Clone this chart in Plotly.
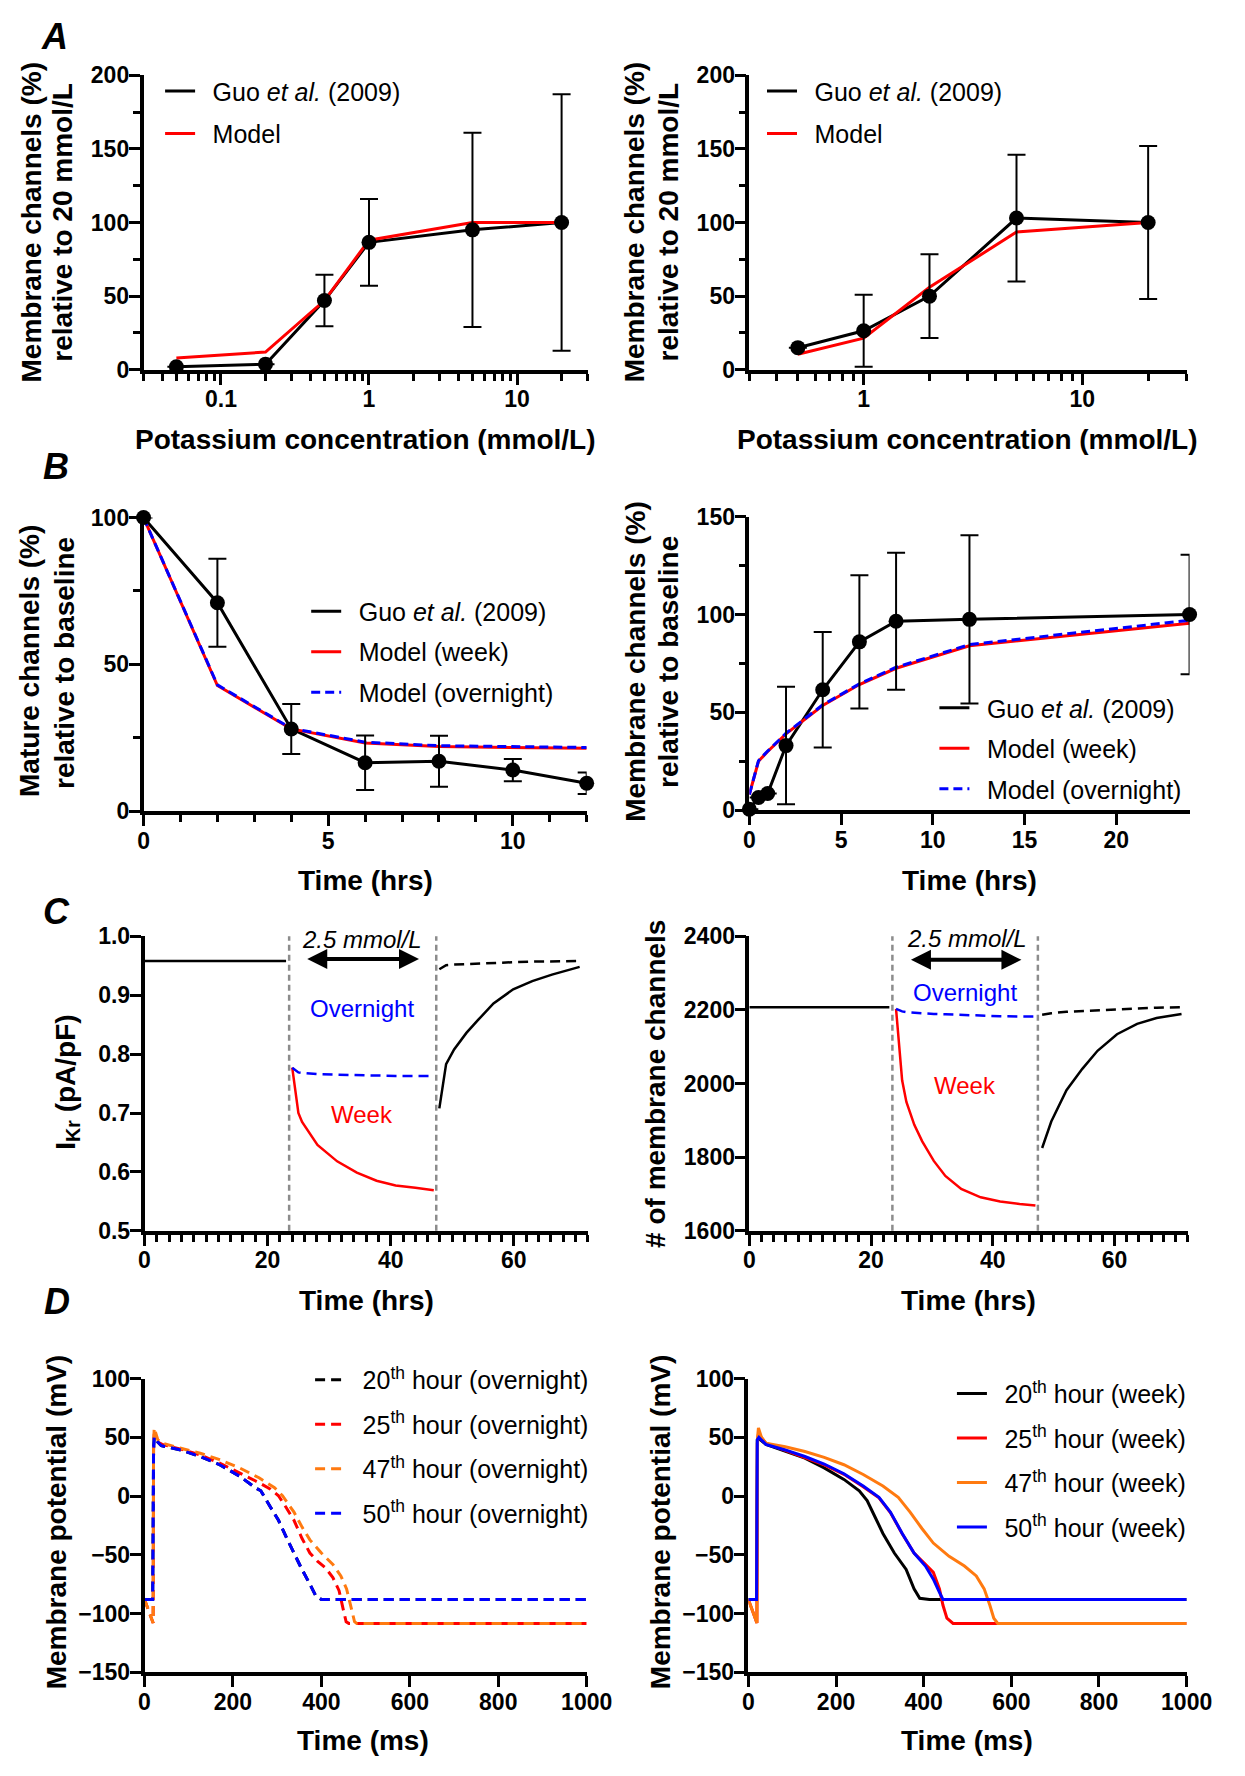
import math
import plotly.graph_objects as go

# target picture size and the browser's default body margin
W, H = 1245, 1776
OFF = 8
FW, FH = W - 2 * OFF, H - 2 * OFF
FONT = "Liberation Sans, Arial, sans-serif"

# ---------------- data ----------------
# Panel A (left)
kA1 = [0.05, 0.2, 0.5, 1, 5, 20]
guoA1 = [2, 3.8, 47, 86.5, 95, 100]
guoA1_err = [0, 0, 17.5, 29.5, 66, 87]
modelA1 = [8, 12, 47, 88, 100, 100]

# Panel A (right)
kA2 = [0.5, 1, 2, 5, 20]
guoA2 = [15, 26.5, 50, 103, 100]
guoA2_err = [0, 24.5, 28.5, 43, 52]
modelA2 = [10.5, 21.5, 56, 93.5, 100]

# Panel B (left)
tB1 = [0, 2, 4, 6, 8, 10, 12]
guoB1 = [100, 71, 28, 16.5, 17, 14, 9.5]
guoB1_err = [0, 15, 8.5, 9.3, 8.7, 3.8, 3.7]
modelB1_week = [100, 42.8, 28, 23.2, 22, 21.6, 21.4]
modelB1_overnight = [100, 43, 28.2, 23.5, 22.3, 21.9, 21.7]

# Panel B (right)
tB2 = [0, 0.5, 1, 2, 4, 6, 8, 12, 24]
guoB2 = [0.5, 6.5, 8.5, 33, 61.5, 86, 96.5, 97.5, 100]
guoB2_err = [0, 0, 0, 30, 29.5, 34, 35, 43, 30.5]
tB2_model = [0, 0.5, 1, 2, 4, 6, 8, 10, 12, 24]
modelB2_week = [8, 25, 30, 39, 53.5, 64.2, 72.5, 78.2, 84, 95.5]
modelB2_overnight = [8, 25.3, 30.2, 39.3, 53.8, 64.5, 73, 78.8, 84.6, 97]

# Panel C (shared)
switch_times = [23.5, 47.4]
tC_base = [0, 23]
tC_low_L = [24, 25, 25.6, 28.1, 31.3, 34.5, 37.7, 40.8, 44, 47]
tC_rec_L = [47.9, 49.0, 50.3, 52.3, 54.2, 56.7, 59.9, 63.0, 66.2, 69.4, 70.7]
IKr_base = [0.958, 0.958]
IKr_week_low = [0.777, 0.700, 0.685, 0.646, 0.618, 0.599, 0.585, 0.577, 0.573, 0.569]
IKr_overnight_low = [0.777, 0.769, 0.768, 0.766, 0.765, 0.764, 0.764, 0.763, 0.763, 0.763]
IKr_week_rec = [0.708, 0.783, 0.808, 0.836, 0.858, 0.886, 0.910, 0.924, 0.935, 0.944, 0.948]
IKr_overnight_rec = [0.944, 0.951, 0.952, 0.953, 0.954, 0.955, 0.956, 0.957, 0.957, 0.958, 0.958]

tC_low_R = [24.1, 25.1, 25.8, 27.1, 28.4, 30.3, 32.2, 34.8, 38.0, 41.2, 44.4, 47.0]
N_base = [2207, 2207]
N_week_low = [2203, 2009, 1950, 1888, 1843, 1790, 1749, 1714, 1691, 1680, 1673, 1669]
N_overnight_low = [2203, 2196, 2194, 2192, 2190, 2189, 2188, 2186, 2185, 2183, 2182, 2182]
tC_rec_R = [48.1, 49.6, 52.1, 54.7, 57.2, 60.4, 63.7, 66.9, 71.0]
N_week_rec = [1825, 1897, 1982, 2040, 2089, 2134, 2162, 2178, 2189]
N_overnight_rec = [2187, 2191, 2195, 2197, 2199, 2202, 2204, 2206, 2207]

# Panel D (left, overnight)
tD_20_o = [0, 18.5, 20.5, 22, 30, 38, 82, 126, 170, 215, 250, 263, 285, 303, 320, 338, 356, 374, 387, 400, 1000]
vD_20_o = [-88, -88, 40, 50.4, 46, 42.9, 39.3, 33.7, 26.7, 17, 7.2, 4.5, -9.5, -20.6, -34.5, -48.5, -62.4, -75, -84.7, -88, -88]
tD_25_o = [0, 18, 19.5, 20.5, 22, 30, 40, 82, 126, 170, 215, 259, 285, 303, 320, 338, 356, 374, 391, 409, 426, 440, 449, 456, 462, 1000]
vD_25_o = [-88, -107, -108, 40, 53, 46, 44, 40, 35, 28.1, 19.8, 11.4, 5.8, 0.3, -9.5, -20.6, -35.9, -48.5, -55.4, -61, -69.4, -80.5, -95.8, -107, -108.4, -108.4]
tD_47_o = [0, 18, 19.5, 20.5, 22, 30, 40, 82, 126, 170, 215, 259, 294, 312, 338, 356, 374, 400, 426, 444, 457, 466, 475, 480, 1000]
vD_47_o = [-88, -107, -108, 45, 58, 48, 45, 40.7, 36.5, 31, 24, 15.6, 7.2, 0.3, -13.6, -26.2, -37.3, -48.5, -58.2, -68, -79.1, -93, -107, -108.4, -108.4]
tD_50_o = [0, 18.5, 20.5, 22, 30, 38, 82, 126, 170, 215, 250, 263, 285, 303, 320, 338, 356, 374, 387, 400, 1000]
vD_50_o = [-88, -88, 40, 50.4, 46, 42.9, 39.3, 33.7, 26.7, 17, 7.2, 4.5, -9.5, -20.6, -34.5, -48.5, -62.4, -75, -84.7, -88, -88]

# Panel D (right, week)
tD_20_w = [0, 18.7, 20.4, 24, 40, 84, 129, 173, 218, 253, 271, 289, 307, 333, 360, 378, 391, 413, 1000]
vD_20_w = [-88, -88, 47.6, 49, 44, 38.4, 32.3, 24, 14.2, 4.5, -3.9, -17.8, -31.8, -48.5, -62.4, -79, -87, -88, -88]
tD_25_w = [0, 18, 19.5, 20.5, 23, 40, 84, 129, 173, 218, 262, 298, 324, 351, 378, 404, 422, 436, 444, 453, 467, 1000]
vD_25_w = [-88, -107, -108, 45, 53, 45, 39, 33, 26.5, 18.5, 8, -1.5, -14, -32, -48.5, -58, -65, -79, -93, -104, -108.4, -108.4]
tD_47_w = [0, 18, 19.5, 21, 23, 30, 40, 84, 129, 173, 218, 262, 307, 342, 369, 396, 422, 458, 493, 520, 538, 551, 560, 569, 1000]
vD_47_w = [-88, -107, -108, 50, 58, 50, 45, 42, 38, 33, 26.7, 18.4, 8.6, -1.1, -13.6, -27.6, -40, -51.3, -59.6, -68, -79, -93, -104, -108.4, -108.4]
tD_50_w = [0, 18.7, 20.4, 24, 40, 84, 129, 173, 218, 262, 298, 324, 351, 378, 404, 422, 436, 444, 1000]
vD_50_w = [-88, -88, 48, 50, 44, 39.3, 33.7, 27.3, 19, 8.6, -1.1, -13.6, -31.8, -48.5, -59.6, -70.7, -81.9, -88, -88]

# ---------------- colours / styles ----------------
BLACK, RED, BLUE, ORANGE, GREY = "#000000", "#FF0000", "#0000FF", "#FF7A10", "#8C8C8C"
LW = 3
DASH = "10px,6px"
SP = "\u2002"  # spacing between legend line sample and its text

fig = go.Figure()


def px_x(px):
    return (px - OFF) / FW


def px_y(py):
    return 1 - (py - OFF) / FH


def line(x, y, color, name=None, legend=None, group=None, dash="solid", xa="x", ya="y", lw=LW):
    fig.add_trace(go.Scatter(
        x=x, y=y, mode="lines", line=dict(color=color, width=lw, dash=dash),
        name=(SP + name) if name else None, showlegend=name is not None, legend=legend,
        legendgroup=group, xaxis=xa, yaxis=ya, cliponaxis=False, hoverinfo="skip"))


def points(x, y, err, xa, ya):
    fig.add_trace(go.Scatter(
        x=x, y=y, mode="markers", marker=dict(color=BLACK, size=15),
        error_y=dict(type="data", array=err, visible=True, color=BLACK, thickness=2, width=9),
        showlegend=False, xaxis=xa, yaxis=ya, cliponaxis=False, hoverinfo="skip"))


GUO = "Guo <i>et al.</i> (2009)"

# A left
line(kA1, guoA1, BLACK, GUO, "legend", "a1", xa="x", ya="y")
line(kA1, modelA1, RED, "Model", "legend", "a2", xa="x", ya="y")
points(kA1, guoA1, guoA1_err, "x", "y")
# A right
line(kA2, guoA2, BLACK, GUO, "legend2", "b1", xa="x2", ya="y2")
line(kA2, modelA2, RED, "Model", "legend2", "b2", xa="x2", ya="y2")
points(kA2, guoA2, guoA2_err, "x2", "y2")
# B left
line(tB1, guoB1, BLACK, GUO, "legend3", "c1", xa="x3", ya="y3")
line(tB1, modelB1_week, RED, "Model (week)", "legend3", "c2", xa="x3", ya="y3")
line(tB1, modelB1_overnight, BLUE, "Model (overnight)", "legend3", "c3", dash="9px,5px", xa="x3", ya="y3")
points(tB1, guoB1, guoB1_err, "x3", "y3")
# B right
line(tB2, guoB2, BLACK, GUO, "legend4", "d1", xa="x4", ya="y4")
line(tB2_model, modelB2_week, RED, "Model (week)", "legend4", "d2", xa="x4", ya="y4")
line(tB2_model, modelB2_overnight, BLUE, "Model (overnight)", "legend4", "d3", dash="9px,5px", xa="x4", ya="y4")
points(tB2, guoB2, guoB2_err, "x4", "y4")

# C left
line(tC_base, IKr_base, BLACK, xa="x5", ya="y5", lw=2.5)
line(tC_low_L, IKr_week_low, RED, xa="x5", ya="y5", lw=2.5)
line(tC_low_L, IKr_overnight_low, BLUE, dash=DASH, xa="x5", ya="y5", lw=2.5)
line(tC_rec_L, IKr_week_rec, BLACK, xa="x5", ya="y5", lw=2.5)
line(tC_rec_L, IKr_overnight_rec, BLACK, dash=DASH, xa="x5", ya="y5", lw=2.5)
# C right
line(tC_base, N_base, BLACK, xa="x6", ya="y6", lw=2.5)
line(tC_low_R, N_week_low, RED, xa="x6", ya="y6", lw=2.5)
line(tC_low_R, N_overnight_low, BLUE, dash=DASH, xa="x6", ya="y6", lw=2.5)
line(tC_rec_R, N_week_rec, BLACK, xa="x6", ya="y6", lw=2.5)
line(tC_rec_R, N_overnight_rec, BLACK, dash=DASH, xa="x6", ya="y6", lw=2.5)

# D left (overnight)
line(tD_20_o, vD_20_o, BLACK, "20<sup>th</sup> hour (overnight)", "legend5", "e1", dash=DASH, xa="x7", ya="y7")
line(tD_25_o, vD_25_o, RED, "25<sup>th</sup> hour (overnight)", "legend5", "e2", dash=DASH, xa="x7", ya="y7")
line(tD_47_o, vD_47_o, ORANGE, "47<sup>th</sup> hour (overnight)", "legend5", "e3", dash=DASH, xa="x7", ya="y7")
line(tD_50_o, vD_50_o, BLUE, "50<sup>th</sup> hour (overnight)", "legend5", "e4", dash=DASH, xa="x7", ya="y7")
# D right (week)
line(tD_20_w, vD_20_w, BLACK, "20<sup>th</sup> hour (week)", "legend6", "f1", xa="x8", ya="y8")
line(tD_25_w, vD_25_w, RED, "25<sup>th</sup> hour (week)", "legend6", "f2", xa="x8", ya="y8")
line(tD_47_w, vD_47_w, ORANGE, "47<sup>th</sup> hour (week)", "legend6", "f3", xa="x8", ya="y8")
line(tD_50_w, vD_50_w, BLUE, "50<sup>th</sup> hour (week)", "legend6", "f4", xa="x8", ya="y8")

# ---------------- layout ----------------
# plot boxes in picture pixels: (left, right), (top, bottom)
boxes = {
    1: ((141, 597), (63, 362)),
    2: ((763, 1212), (63, 362)),
    3: ((141, 596), (512, 810)),
    4: ((763, 1215), (511, 809)),
    5: ((142, 597), (937, 1236)),
    6: ((763, 1213), (937, 1236)),
    7: ((142, 596), (1386, 1684)),
    8: ((762, 1212), (1386, 1684)),
}

tickfont = dict(family=FONT, size=23, color=BLACK, weight="bold")
base_ax = dict(showline=True, linecolor=BLACK, linewidth=3.5, ticks="outside", ticklen=11,
               tickwidth=3, tickcolor=BLACK, showgrid=False, zeroline=False,
               tickfont=tickfont, mirror=False, fixedrange=True)
minor_style = dict(ticks="outside", ticklen=7, tickwidth=2.5, tickcolor=BLACK, showgrid=False)

xspec = {
    1: dict(type="log", range=[math.log10(0.03), math.log10(30)], dtick=1, minor=dict(dtick="D1", **minor_style)),
    2: dict(type="log", range=[math.log10(0.3), math.log10(30)], dtick=1, minor=dict(dtick="D1", **minor_style)),
    3: dict(range=[0, 12], dtick=5, minor=dict(dtick=1, **minor_style)),
    4: dict(range=[0, 24], dtick=5),
    5: dict(range=[0, 72], dtick=20, minor=dict(dtick=2, **minor_style)),
    6: dict(range=[0, 72], dtick=20, minor=dict(dtick=2, **minor_style)),
    7: dict(range=[0, 1000], dtick=200),
    8: dict(range=[0, 1000], dtick=200),
}
yspec = {
    1: dict(range=[0, 200], dtick=50, minor=dict(dtick=25, **minor_style)),
    2: dict(range=[0, 200], dtick=50, minor=dict(dtick=25, **minor_style)),
    3: dict(range=[0, 100], dtick=50, minor=dict(dtick=25, **minor_style)),
    4: dict(range=[0, 150], dtick=50, minor=dict(dtick=25, **minor_style)),
    5: dict(range=[0.5, 1.0], dtick=0.1, tickformat=".1f"),
    6: dict(range=[1600, 2400], dtick=200),
    7: dict(range=[-150, 100], dtick=50),
    8: dict(range=[-150, 100], dtick=50),
}

layout = dict(width=FW, height=FH, margin=dict(l=0, r=0, t=0, b=0),
              paper_bgcolor="white", plot_bgcolor="white",
              font=dict(family=FONT, color=BLACK), showlegend=True)
for i, ((x0, x1), (y0, y1)) in boxes.items():
    sfx = "" if i == 1 else str(i)
    xa = dict(base_ax, domain=[px_x(x0), px_x(x1)], anchor="y" + sfx, ticklabelstandoff=-5, **xspec[i])
    ya = dict(base_ax, domain=[px_y(y1), px_y(y0)], anchor="x" + sfx, ticklabelstandoff=-5, **yspec[i])
    layout["xaxis" + sfx] = xa
    layout["yaxis" + sfx] = ya


def legend_at(left, top, gap):
    return dict(x=px_x(left), y=px_y(top), xanchor="left", yanchor="top",
                bgcolor="rgba(0,0,0,0)", borderwidth=0, tracegroupgap=gap,
                font=dict(family=FONT, size=25, color=BLACK), traceorder="grouped")


layout["legend"] = legend_at(158, 56, 7)
layout["legend2"] = legend_at(776, 56, 7)
layout["legend3"] = legend_at(308, 584, 5)
layout["legend4"] = legend_at(953, 682, 5)
layout["legend5"] = legend_at(312, 1364, 9)
layout["legend6"] = legend_at(971, 1378, 9)

fig.update_layout(**layout)

# ---------------- annotations ----------------
ann = []


def txt(x, y, text, size, xref="paper", yref="paper", color=BLACK, angle=0, bold=False, italic=False):
    if xref == "paper":
        x = px_x(x)
    if yref == "paper":
        y = px_y(y)
    ann.append(dict(x=x, y=y, xref=xref, yref=yref, text=text, showarrow=False,
                    xanchor="center", yanchor="middle", textangle=angle,
                    font=dict(family=FONT, size=size, color=color,
                              weight="bold" if bold else "normal",
                              style="italic" if italic else "normal")))


# panel letters
for letter, (lx, ly) in {"A": (50, 24), "B": (51, 460), "C": (52, 912), "D": (52, 1308)}.items():
    txt(lx, ly, letter, 36, bold=True, italic=True)

# x titles
XT = 28
txt(369, 433, "Potassium concentration (mmol/L)", XT, bold=True)
txt(987, 433, "Potassium concentration (mmol/L)", XT, bold=True)
txt(369, 880, "Time (hrs)", XT, bold=True)
txt(989, 880, "Time (hrs)", XT, bold=True)
txt(370, 1307, "Time (hrs)", XT, bold=True)
txt(988, 1307, "Time (hrs)", XT, bold=True)
txt(366, 1753, "Time (ms)", XT, bold=True)
txt(986, 1753, "Time (ms)", XT, bold=True)

# y titles
YT = 28
txt(26, 212, "Membrane channels (%)", YT, angle=-90, bold=True)
txt(58, 212, "relative to 20 mmol/L", YT, angle=-90, bold=True)
txt(646, 212, "Membrane channels (%)", YT, angle=-90, bold=True)
txt(680, 212, "relative to 20 mmol/L", YT, angle=-90, bold=True)
txt(24, 658, "Mature channels (%)", YT, angle=-90, bold=True)
txt(60, 660, "relative to baseline", YT, angle=-90, bold=True)
txt(646, 658, "Membrane channels (%)", YT, angle=-90, bold=True)
txt(680, 659, "relative to baseline", YT, angle=-90, bold=True)
txt(62, 1085, "I<sub>Kr</sub> (pA/pF)", YT, angle=-90, bold=True)
txt(666, 1087, "# of membrane channels", YT, angle=-90, bold=True)
txt(52, 1532, "Membrane potential (mV)", YT, angle=-90, bold=True)
txt(672, 1532, "Membrane potential (mV)", YT, angle=-90, bold=True)

# panel C texts
CT = 24
txt(35.4, 0.995, "2.5 mmol/L", CT, xref="x5", yref="y5", italic=True)
txt(35.4, 0.878, "Overnight", CT, xref="x5", yref="y5", color=BLUE)
txt(35.4, 0.697, "Week", CT, xref="x5", yref="y5", color=RED)
txt(35.8, 2395, "2.5 mmol/L", CT, xref="x6", yref="y6", italic=True)
txt(35.4, 2247, "Overnight", CT, xref="x6", yref="y6", color=BLUE)
txt(35.4, 1996, "Week", CT, xref="x6", yref="y6", color=RED)

arrows = [("x5", "y5", 26.2, 44.6, 0.9615), ("x6", "y6", 26.3, 44.7, 2336)]
for xr, yr, a0, a1, ay in arrows:
    ann.append(dict(x=a1, y=ay, ax=a0, ay=ay, xref=xr, yref=yr, axref=xr, ayref=yr,
                    text="", showarrow=True, arrowhead=2, arrowside="end+start",
                    arrowwidth=4, arrowsize=1, arrowcolor=BLACK, standoff=0, startstandoff=0))

fig.update_layout(annotations=ann)

# switch-time vertical dashed lines in panel C
shapes = []
for xr, yr in [("x5", "y5"), ("x6", "y6")]:
    for ts in switch_times:
        shapes.append(dict(type="line", xref=xr, yref=yr + " domain", x0=ts, x1=ts, y0=0, y1=1,
                           line=dict(color=GREY, width=2.5, dash="6px,4px")))
fig.update_layout(shapes=shapes)

fig.write_html("out.html", config={"displayModeBar": False})
